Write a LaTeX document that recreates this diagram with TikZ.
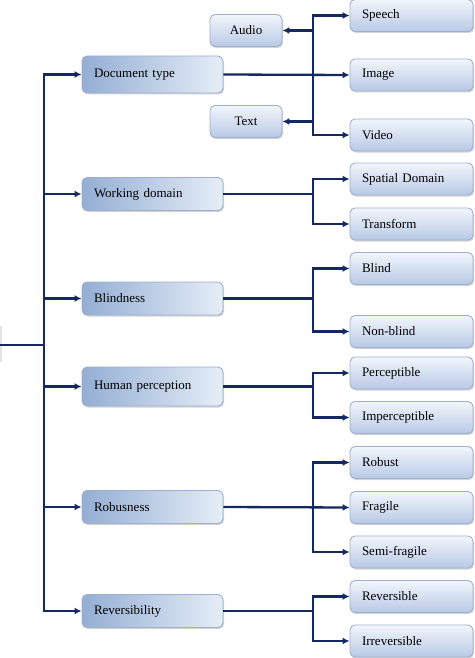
\documentclass[tikz,border=0pt]{standalone}
\usepackage{fontspec}
\setmainfont{Liberation Serif}
\usetikzlibrary{arrows.meta,shadows}

\definecolor{navy}{RGB}{20,40,98}
\definecolor{boxdark}{RGB}{148,174,212}
\definecolor{boxlight}{RGB}{230,237,247}
\definecolor{boxtop}{RGB}{242,246,252}
\definecolor{boxbot}{RGB}{184,201,229}
\definecolor{boxedge}{RGB}{158,176,206}

\tikzset{
  box/.style={draw=boxedge, line width=0.9pt, rounded corners=5pt,
    drop shadow={shadow xshift=1pt, shadow yshift=-1.5pt, opacity=0.35},
    font=\fontsize{13}{15}\selectfont, inner xsep=12pt},
  mainbox/.style={box, left color=boxdark, right color=boxlight,
    text width=117pt, minimum height=33pt, align=left},
  leafbox/.style={box, top color=boxtop, bottom color=boxbot,
    text width=99pt, minimum height=32pt, align=left},
  sidebox/.style={box, top color=boxtop, bottom color=boxbot,
    minimum width=72pt, minimum height=32pt, inner xsep=4pt, align=center},
  link/.style={navy, line width=2.3pt},
  arr/.style={link, -{Latex[length=7pt,width=7pt]}}
}

\begin{document}
\begin{tikzpicture}[x=1pt, y=-1pt]
\useasboundingbox (0,0) rectangle (474,658);

% cut-off box at the left border
\fill[gray!22] (0,326) rectangle (2,362);

% Main categories
\node (doc) at (152.5,74.5) [mainbox, minimum height=37pt] {Document type};
\node (wd) at (152.5,194) [mainbox] {Working domain};
\node (bl) at (152.5,298.5) [mainbox] {Blindness};
\node (hp) at (152.5,386.5) [mainbox, minimum height=39pt] {Human perception};
\node (rb) at (152.5,507) [mainbox] {Robusness};
\node (rv) at (152.5,611) [mainbox] {Reversibility};

% Document types
\node (audio) at (246,30.5) [sidebox] {Audio};
\node (text) at (246,121.5) [sidebox] {Text};
\node (speech) at (411.5,15.5) [leafbox] {Speech};
\node (image) at (411.5,75) [leafbox] {Image};
\node (video) at (411.5,135) [leafbox] {Video};

% Leaves
\node (spatial) at (411.5,179) [leafbox] {Spatial Domain};
\node (transform) at (411.5,224) [leafbox] {Transform};
\node (blind) at (411.5,268.5) [leafbox] {Blind};
\node (nonblind) at (411.5,331.5) [leafbox] {Non-blind};
\node (percept) at (411.5,373) [leafbox] {Perceptible};
\node (impercept) at (411.5,417.5) [leafbox] {Imperceptible};
\node (robust) at (411.5,462.5) [leafbox] {Robust};
\node (fragile) at (411.5,507.5) [leafbox] {Fragile};
\node (semi) at (411.5,552) [leafbox] {Semi-fragile};
\node (revers) at (411.5,596.5) [leafbox] {Reversible};
\node (irrevers) at (411.5,641) [leafbox] {Irreversible};

% Trunk
\coordinate (start) at (0,345);
\coordinate (root) at (44,345);
\draw[link] (start) -- (root);
\foreach \n in {doc,wd,bl,hp,rb,rv}
  \draw[arr] (root) |- (\n.west);

% Forks
\coordinate (forkx) at (313,0);
\draw[arr] (doc.east) -- (image.west);
\coordinate (docfork) at (doc.east -| forkx);
\draw[arr] (docfork) |- (speech.west);
\draw[arr] (docfork) |- (video.west);
\draw[arr] (docfork) |- (audio.east);
\draw[arr] (docfork) |- (text.east);

\draw[arr] (rb.east) -- (fragile.west);
\coordinate (rbfork) at (rb.east -| forkx);
\draw[arr] (rbfork) |- (robust.west);
\draw[arr] (rbfork) |- (semi.west);

\foreach \p/\a/\b in {wd/spatial/transform, bl/blind/nonblind,
                      hp/percept/impercept, rv/revers/irrevers} {
  \draw[link] (\p.east) -- (\p.east -| forkx) coordinate (\p fork);
  \draw[arr] (\p fork) |- (\a.west);
  \draw[arr] (\p fork) |- (\b.west);
}

\end{tikzpicture}
\end{document}
